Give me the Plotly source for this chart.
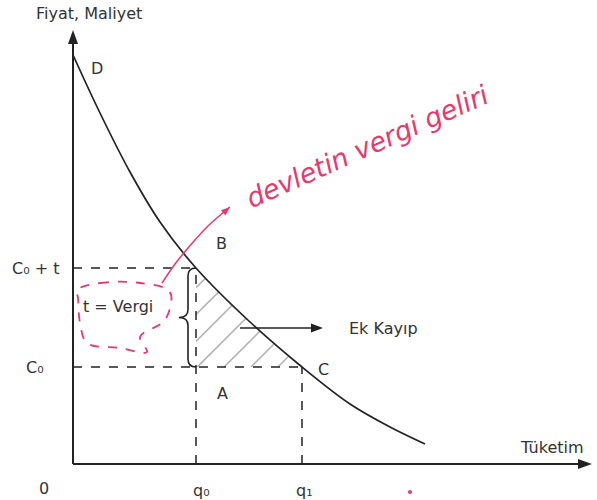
import math
import plotly.graph_objects as go

# talep egrisi (D) - okunan noktalar
miktar = [0, 27, 57, 87, 123, 177, 229, 277, 317, 352]
fiyat = [409, 351, 292, 242, 196, 142, 97, 60, 37, 20]

q0, q1 = 123, 229
c0, c0t = 97, 196
x_son, y_son = 519, 434

# kirmizi el yazisi halka (t = Vergi etrafinda)
halka_x = [4, 27, 67, 97, 92, 67, 74, 47, 14, 7, 5, 4]
halka_y = [174, 181, 181, 172, 144, 127, 112, 116, 121, 141, 166, 174]
# kirmizi ok egrisi
ok_x = [89, 102, 115, 135, 157]
ok_y = [181, 200, 216, 238, 257]

siyah = "#222222"
pembe = "#e8386c"
yazi = "DejaVu Sans"

fig = go.Figure()

# taralı alan (Ek Kayip ucgeni)
ix = [i for i, v in enumerate(miktar) if q0 <= v <= q1]
tx = [q0] + [miktar[i] for i in ix] + [q0]
ty = [c0] + [fiyat[i] for i in ix] + [c0]
fig.add_trace(go.Scatter(x=tx, y=ty, mode="lines", fill="toself",
        line=dict(width=0), fillcolor="rgba(0,0,0,0)",
        fillpattern=dict(shape="/", size=19, solidity=0.06,
                         fgcolor="#1a1a1a", bgcolor="rgba(0,0,0,0)"),
        hoverinfo="skip", showlegend=False))

# kesikli cizgiler
kesik = dict(color=siyah, width=1.5, dash="dash")
for xs, ys in [([0, q0], [c0t, c0t]), ([0, q1], [c0, c0]),
               ([q0, q0], [0, c0t]), ([q1, q1], [0, c0])]:
    fig.add_trace(go.Scatter(x=xs, y=ys, mode="lines", line=kesik,
                             hoverinfo="skip", showlegend=False))

# talep egrisi
fig.add_trace(go.Scatter(x=miktar, y=fiyat, mode="lines",
        line=dict(color=siyah, width=1.7, shape="spline", smoothing=1.0),
        showlegend=False))


def ok_ucu(x1, y1, x2, y2, renk, boy, en):
    # eksen birimi = 1 piksel, ok ucu dolu ucgen
    d = math.hypot(x2 - x1, y2 - y1)
    ux, uy = (x2 - x1) / d, (y2 - y1) / d
    bx, by = x2 - boy * ux, y2 - boy * uy
    px, py = -uy * en / 2, ux * en / 2
    fig.add_shape(type="path", xref="x", yref="y",
        path=f"M {x2},{y2} L {bx + px},{by + py} L {bx - px},{by - py} Z",
        fillcolor=renk, line=dict(width=0))
    return bx, by


def okla(x1, y1, x2, y2, renk, kalin, boy, en):
    bx, by = ok_ucu(x1, y1, x2, y2, renk, boy, en)
    fig.add_trace(go.Scatter(x=[x1, bx], y=[y1, by], mode="lines",
        line=dict(color=renk, width=kalin),
        hoverinfo="skip", showlegend=False))


# eksenler ve oklar
okla(0, 0, x_son, 0, siyah, 2, 14, 10)
okla(0, 0, 0, y_son, siyah, 2, 14, 10)
okla(167, 136, 250, 136, siyah, 1.5, 12, 9)

# el yazisi isaretler
fig.add_trace(go.Scatter(x=halka_x, y=halka_y, mode="lines",
        line=dict(color=pembe, width=1.8, dash="dash", shape="spline"),
        hoverinfo="skip", showlegend=False))
fig.add_trace(go.Scatter(x=ok_x, y=ok_y, mode="lines",
        line=dict(color=pembe, width=1.5, shape="spline"),
        hoverinfo="skip", showlegend=False))
ok_ucu(ok_x[-2], ok_y[-2], ok_x[-1], ok_y[-1], pembe, 9, 7)
fig.add_trace(go.Scatter(x=[337], y=[-28], mode="markers",
        marker=dict(color=pembe, size=4),
        hoverinfo="skip", showlegend=False))

# suslu parantez
bx, bt = q0 - 8, q0 - 17
orta = (c0 + c0t) / 2
fig.add_shape(type="path", xref="x", yref="y",
    path=(f"M {q0},{c0t} Q {bx},{c0t} {bx},{c0t - 8} L {bx},{orta + 8} "
          f"Q {bx},{orta} {bt},{orta} Q {bx},{orta} {bx},{orta - 8} "
          f"L {bx},{c0 + 8} Q {bx},{c0} {q0},{c0}"),
    line=dict(color=siyah, width=1.6))

# yazilar
etiketler = [
    (16, 451, "Fiyat, Maliyet"),
    (479, 17, "Tüketim"),
    (310, 136, "Ek Kayıp"),
    (45, 158, "t = Vergi"),
    (24, 396, "D"),
    (148, 221, "B"),
    (149, 71, "A"),
    (250, 95, "C"),
    (-38, c0t, "C₀ + t"),
    (-38, c0, "C₀"),
    (q0 + 5, -26, "q₀"),
    (q1 + 2, -26, "q₁"),
    (-29, -24, "0"),
]
for x, y, t in etiketler:
    fig.add_annotation(x=x, y=y, text=t, showarrow=False,
                       font=dict(family=yazi, size=16, color="#333333"))

fig.add_annotation(x=294, y=318, text="devletin vergi geliri", showarrow=False,
                   textangle=-24,
                   font=dict(family="DejaVu Sans", size=27, color=pembe,
                             style="italic"))

fig.update_layout(
    width=597, height=500,
    margin=dict(l=0, r=0, t=0, b=0),
    paper_bgcolor="white", plot_bgcolor="white",
    showlegend=False,
    xaxis=dict(range=[-73, 524], visible=False, fixedrange=True),
    yaxis=dict(range=[-36, 464], visible=False, fixedrange=True),
)

fig.write_html("out.html", config={"displayModeBar": False},
               post_script="document.body.style.margin='0';")
